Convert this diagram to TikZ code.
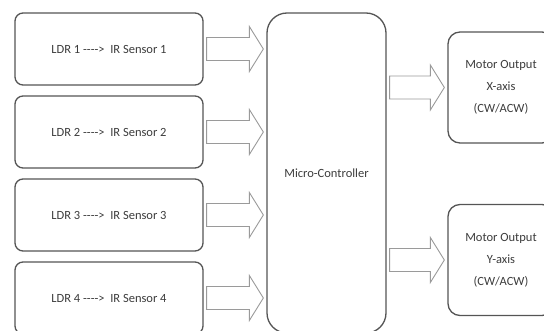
\documentclass[tikz,border=0pt]{standalone}
\usepackage{fontspec}
\setmainfont{Carlito}
\usetikzlibrary{calc}
\definecolor{boxline}{HTML}{555555}
\definecolor{arrowline}{HTML}{9A9A9A}
\definecolor{txt}{HTML}{3C3C3C}
\tikzset{
  block/.style={draw=boxline, line width=1.3pt, text=txt, align=center,
    font=\fontsize{12.5}{22}\selectfont},
  sensor/.style={block, rounded corners=8pt, minimum width=188pt, minimum height=72pt},
  mcu/.style={block, rounded corners=20pt, minimum width=119pt, minimum height=320pt},
  motor/.style={block, rounded corners=12pt, minimum width=106pt, minimum height=111pt},
  % hollow block arrow from the start node to the target node
  blockarrow/.style={draw=arrowline, line width=0.9pt, fill=white,
    to path={let \p1=(\tikztostart), \p2=(\tikztotarget) in
      (\x1+3pt,\y1+11.5pt) -- (\x2-17pt,\y1+11.5pt) -- (\x2-17pt,\y1+22.5pt)
      -- (\x2-3pt,\y1) -- (\x2-17pt,\y1-22.5pt) -- (\x2-17pt,\y1-11.5pt)
      -- (\x1+3pt,\y1-11.5pt) -- cycle}}
}
\begin{document}
\begin{tikzpicture}[x=1pt,y=-1pt]
\useasboundingbox (0,0) rectangle (544,331);
\clip (0,0) rectangle (544,331);

% sensor stages
\node[sensor] (s1) at (109,49)  {LDR 1 -{}-{}-{}-> \ IR Sensor 1};
\node[sensor] (s2) at (109,132) {LDR 2 -{}-{}-{}-> \ IR Sensor 2};
\node[sensor] (s3) at (109,215) {LDR 3 -{}-{}-{}-> \ IR Sensor 3};
\node[sensor] (s4) at (109,298) {LDR 4 -{}-{}-{}-> \ IR Sensor 4};

% controller
\node[mcu] (mcu) at (326.5,173) {Micro-Controller};

% motor outputs
\node[motor] (mx) at (501,87.5) {Motor Output\\X-axis\\(CW/ACW)};
\node[motor] (my) at (501,260)  {Motor Output\\Y-axis\\(CW/ACW)};

% inputs into the controller
\foreach \s in {s1,s2,s3,s4}
  \draw[blockarrow] (\s.east) to (\s.east -| mcu.west);

% controller to motors
\draw[blockarrow] (mcu.east |- mx.west) to (mx.west);
\draw[blockarrow] (mcu.east |- my.west) to (my.west);
\end{tikzpicture}
\end{document}
